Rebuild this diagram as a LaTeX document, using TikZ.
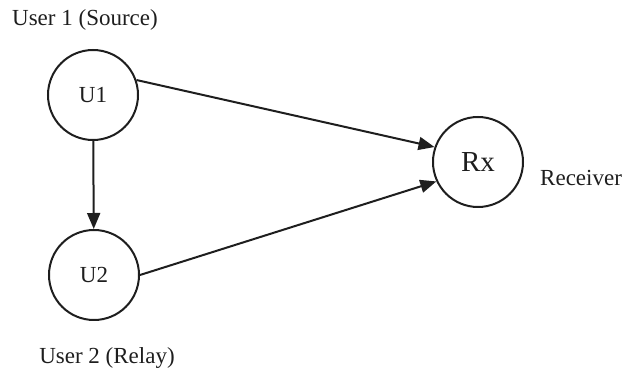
\documentclass[tikz,border=0pt]{standalone}
\usepackage{fontspec}
\setmainfont{Liberation Serif}
\newfontfamily\labelfont{Liberation Serif}
\usetikzlibrary{arrows.meta}
\definecolor{ink}{HTML}{1E1E1E}
\begin{document}
\begin{tikzpicture}[x=1pt,y=-1pt,
  station/.style={circle,draw=ink,line width=2pt,minimum size=90pt,inner sep=0pt,
    font=\labelfont\fontsize{23}{25}\selectfont,text=ink},
  caption/.style={font=\labelfont\fontsize{23}{25}\selectfont,text=ink,inner sep=0pt},
  link/.style={draw=ink,line width=2pt,-{Triangle[length=16pt,width=13pt]}}]
\useasboundingbox (0,0) rectangle (622,371);
% nodes
\node[station] (u1) at (93,95) {U1};
\node[station] (u2) at (94,275) {U2};
\node[station,font=\labelfont\fontsize{29}{31}\selectfont] (rx) at (478,162) {Rx};
% captions
\node[caption] (c1) at (85,20) {User 1 (Source)};
\node[caption,anchor=base west] (c3) at (540,186) {Receiver};
\node[caption] (c2) at (107,358) {User 2 (Relay)};
% links
\draw[link] (u1) -- (u2);
\draw[link] (u1.19) -- (rx.161);
\draw[link] (u2.0) -- (rx.205);
\end{tikzpicture}
\end{document}
